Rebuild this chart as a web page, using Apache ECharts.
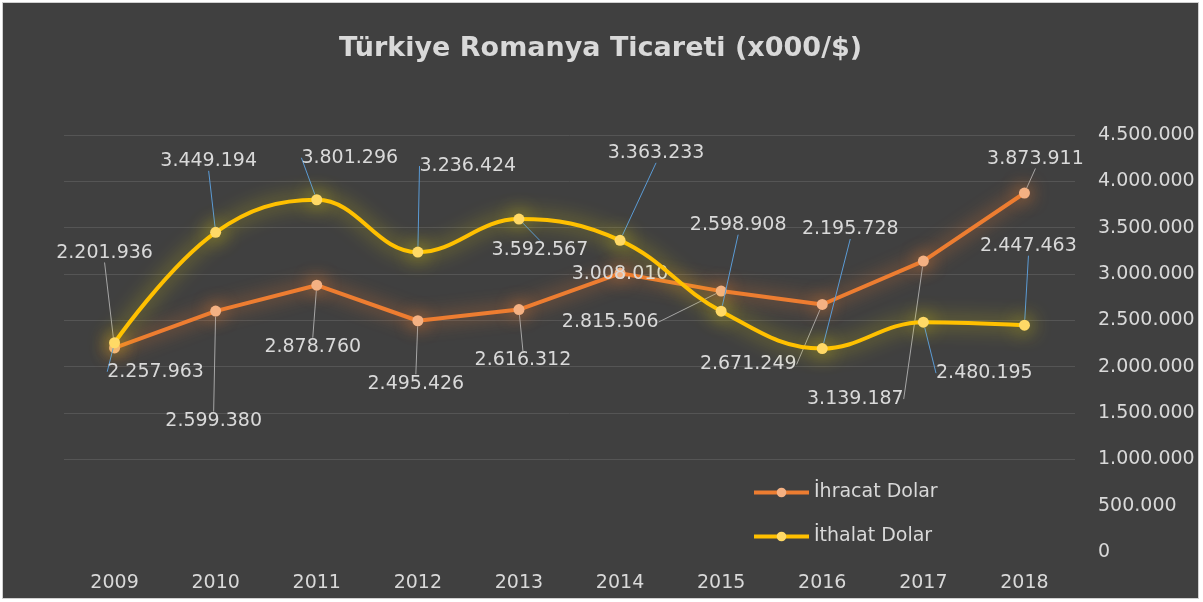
<!DOCTYPE html>
<html>
<head>
<meta charset="utf-8">
<script src="https://cdn.jsdelivr.net/npm/echarts@6/dist/echarts.min.js"></script>
<style>
  html, body { margin: 0; padding: 0; background: #ffffff; }
  #main {
    position: absolute; left: 3px; top: 3px;
    width: 1195px; height: 595px;
    box-shadow: 0 0 0 1px #d0d0d0;
  }
</style>
</head>
<body>
<div id="main"></div>
<script>
// yillar
var years = ['2009', '2010', '2011', '2012', '2013', '2014', '2015', '2016', '2017', '2018'];
// ihracat (x000 $)
var ihracat = [2201936, 2599380, 2878760, 2495426, 2616312, 3008010, 2815506, 2671249, 3139187, 3873911];
// ithalat (x000 $)
var ithalat = [2257963, 3449194, 3801296, 3236424, 3592567, 3363233, 2598908, 2195728, 2480195, 2447463];
// eksen etiketleri
var yTicks = [0, 500000, 1000000, 1500000, 2000000, 2500000, 3000000, 3500000, 4000000, 4500000];

// etiket kaydirmalari (noktaya gore)
var ihracatOffset = [[-10, -95], [-2, 110], [-4, 62], [-2, 63], [4, 51], [0, 1], [-111, 31], [-74, 60], [-68, 138], [11, -34]];
var ithalatOffset = [[41, 29], [-7, -71], [33, -42], [50, -86], [21, 31], [36, -87], [17, -86], [28, -119], [61, 51], [4, -79]];

var font = '"DejaVu Sans", sans-serif';

function fmt(v) {
  return String(v).replace(/\B(?=(\d{3})+(?!\d))/g, '.');
}

function layoutFor(offsets) {
  return function (p) {
    var o = offsets[p.dataIndex];
    return {
      x: p.rect.x + p.rect.width / 2 + o[0],
      y: p.rect.y + p.rect.height / 2 + o[1],
      align: 'center',
      verticalAlign: 'middle'
    };
  };
}

var myChart = echarts.init(document.getElementById('main'));
myChart.setOption({
  backgroundColor: '#404040',
  animation: false,
  title: {
    text: 'Türkiye Romanya Ticareti (x000/$)',
    left: 'center',
    top: 27,
    textStyle: { color: '#d9d9d9', fontSize: 27, fontWeight: 'bold', fontFamily: font }
  },
  legend: {
    orient: 'vertical',
    left: 744,
    top: 475,
    itemWidth: 55,
    itemHeight: 12,
    itemGap: 25,
    lineStyle: { width: 4 },
    textStyle: { color: '#d9d9d9', fontSize: 19, fontFamily: font },
    data: ['İhracat Dolar', 'İthalat Dolar']
  },
  grid: { left: 61, right: 123, top: 132, bottom: 46 },
  xAxis: {
    type: 'category',
    data: years,
    axisLine: { show: false },
    axisTick: { show: false },
    axisLabel: { color: '#d9d9d9', fontSize: 19, fontFamily: font, margin: 22 }
  },
  yAxis: {
    type: 'value',
    position: 'right',
    min: yTicks[0],
    max: yTicks[yTicks.length - 1],
    interval: yTicks[1] - yTicks[0],
    axisLine: { show: false },
    axisTick: { show: false },
    axisLabel: {
      color: '#d9d9d9', fontSize: 19, fontFamily: font, margin: 23,
      formatter: function (v) { return fmt(v); }
    },
    splitLine: {
      lineStyle: {
        width: 1,
        color: ['transparent', 'transparent', '#555555', '#555555', '#555555',
                '#555555', '#555555', '#555555', '#555555', '#555555']
      }
    }
  },
  series: [
    {
      name: 'İhracat Dolar',
      type: 'line',
      data: ihracat,
      symbol: 'circle',
      symbolSize: 11,
      lineStyle: { color: '#ED7D31', width: 4, shadowBlur: 18, shadowColor: 'rgba(237,125,49,0.85)' },
      itemStyle: { color: '#F4B183', borderWidth: 0, shadowBlur: 18, shadowColor: 'rgba(237,125,49,1)' },
      label: {
        show: true,
        color: '#d9d9d9',
        fontSize: 19,
        fontFamily: font,
        formatter: function (p) { return fmt(p.value); }
      },
      labelLine: { show: true, lineStyle: { color: '#a6a6a6', width: 1 } },
      labelLayout: layoutFor(ihracatOffset),
      z: 3
    },
    {
      name: 'İthalat Dolar',
      type: 'line',
      data: ithalat,
      smooth: 0.4,
      symbol: 'circle',
      symbolSize: 11,
      lineStyle: { color: '#FFC000', width: 4, shadowBlur: 20, shadowColor: 'rgba(255,235,0,0.7)' },
      itemStyle: { color: '#FFD966', borderWidth: 0, shadowBlur: 20, shadowColor: 'rgba(255,235,0,0.9)' },
      label: {
        show: true,
        color: '#d9d9d9',
        fontSize: 19,
        fontFamily: font,
        formatter: function (p) { return fmt(p.value); }
      },
      labelLine: { show: true, lineStyle: { color: '#5B9BD5', width: 1 } },
      labelLayout: layoutFor(ithalatOffset),
      z: 4
    }
  ]
});
</script>
</body>
</html>
